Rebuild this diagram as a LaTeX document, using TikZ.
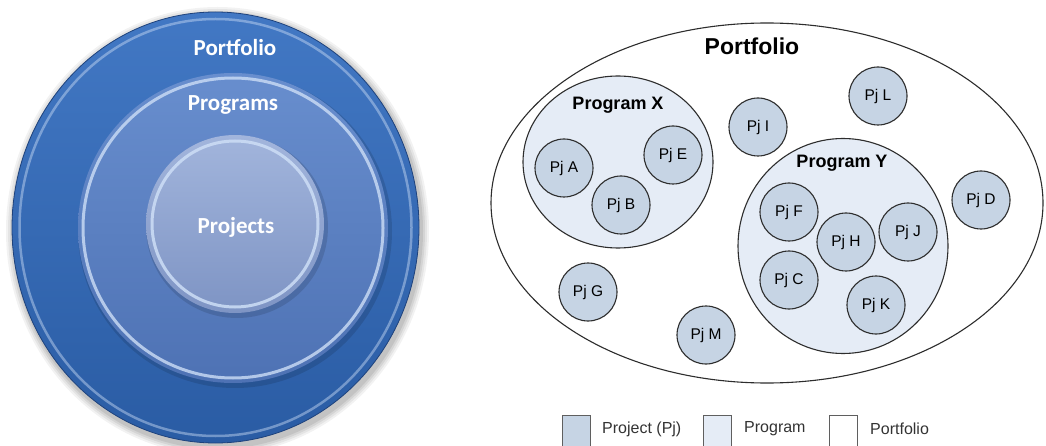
\documentclass[tikz,border=0pt]{standalone}
\usepackage{fontspec}
\setmainfont{Liberation Sans}
\newfontfamily\ringfont{Carlito}
\usetikzlibrary{shapes.geometric}

% colours of the nested discs
\definecolor{portA}{RGB}{66,120,196}
\definecolor{portB}{RGB}{42,92,164}
\definecolor{portEdge}{RGB}{30,66,124}
\definecolor{progA}{RGB}{104,142,206}
\definecolor{progB}{RGB}{78,114,180}
\definecolor{projA}{RGB}{162,181,220}
\definecolor{projB}{RGB}{126,148,196}
\definecolor{rimLight}{RGB}{205,222,246}
% colours of the set diagram
\definecolor{pjFill}{RGB}{198,212,228}
\definecolor{pgFill}{RGB}{229,236,246}
\definecolor{lineGrey}{RGB}{45,45,45}
\definecolor{legGrey}{RGB}{95,95,95}

\tikzset{
  ringlabel/.style={text=white, font=\ringfont\bfseries\fontsize{23}{23}\selectfont, inner sep=0pt},
  pj/.style={circle, draw=lineGrey, line width=1.1pt, fill=pjFill, minimum size=58pt, inner sep=0pt,
             font=\fontsize{15.5}{15.5}\selectfont},
  pg/.style={ellipse, draw=lineGrey, line width=1.1pt, fill=pgFill, inner sep=0pt},
  pglabel/.style={font=\bfseries\fontsize{18}{18}\selectfont, inner sep=0pt},
  legbox/.style={draw=legGrey, line width=1pt, minimum width=28pt, minimum height=36pt, inner sep=0pt, anchor=north west},
  legtext/.style={font=\fontsize{16}{16}\selectfont, text=black!80, anchor=west, inner sep=0pt}
}

\begin{document}
\begin{tikzpicture}[x=1pt, y=-1pt]
\useasboundingbox (0,0) rectangle (1046,446);

% ---------- nested rings ----------
% soft shadow under the outer ring
\foreach \g/\o in {8/0.05,6/0.06,4/0.07,2/0.08}
  \fill[black, opacity=\o] (217.5,231) ellipse ({203.5+\g} and {216+\g});

\node[ellipse, minimum width=407pt, minimum height=431pt, inner sep=0pt,
      top color=portA, bottom color=portB, draw=portEdge, line width=0.8pt] (portring) at (215.5,227.5) {};
\draw[rimLight, opacity=0.45, line width=2.5pt] (portring.center) ellipse (196 and 208.5);

\fill[black, opacity=0.12] (235,231) circle (157);
\node[circle, minimum size=310pt, inner sep=0pt, top color=progA, bottom color=progB] (progring) at (233,228) {};
\draw[rimLight, opacity=0.8, line width=3pt] (progring.center) circle (150);

\fill[black, opacity=0.12] (237,227) circle (91);
\node[circle, minimum size=178pt, inner sep=0pt, top color=projA, bottom color=projB] (projring) at (235,224) {};
\draw[rimLight, opacity=0.85, line width=3pt] (projring.center) circle (83);

\node[ringlabel] (tPort) at (235,48) {Portfolio};
\node[ringlabel] (tProg) at (233,105) {Programs};
\node[ringlabel] (tProj) at (236,227) {Projects};

% ---------- set diagram ----------
\node[ellipse, draw=lineGrey, line width=1.1pt, fill=white, minimum width=552pt, minimum height=360pt, inner sep=0pt] (portfolio) at (767,203) {};
\node[font=\bfseries\fontsize{23}{23}\selectfont, inner sep=0pt] (portTitle) at (752,46) {Portfolio};

\node[pg, minimum width=190pt, minimum height=172pt] (progX) at (618,162) {};
\node[pg, minimum width=210pt, minimum height=215pt] (progY) at (843,246) {};
\node[pglabel] (progXt) at (618,105) {Program X};
\node[pglabel] (progYt) at (842,163) {Program Y};

\node[pj] (pjA) at (564,168) {Pj A};
\node[pj] (pjE) at (673,155) {Pj E};
\node[pj] (pjB) at (621,205) {Pj B};
\node[pj] (pjI) at (758,127) {Pj I};
\node[pj] (pjL) at (878,96)  {Pj L};
\node[pj] (pjD) at (981,200) {Pj D};
\node[pj] (pjF) at (789,212) {Pj F};
\node[pj] (pjH) at (846,242) {Pj H};
\node[pj] (pjJ) at (908,232) {Pj J};
\node[pj] (pjC) at (789,280) {Pj C};
\node[pj] (pjK) at (876,305) {Pj K};
\node[pj] (pjG) at (588,292) {Pj G};
\node[pj] (pjM) at (706,335) {Pj M};

% ---------- legend ----------
\node[legbox, fill=pjFill] (legPj) at (562,415) {};
\node[legtext] (legPjT) at (602,429) {Project (Pj)};
\node[legbox, fill=pgFill] (legPg) at (703,415) {};
\node[legtext] (legPgT) at (744,429) {Program};
\node[legbox, fill=white] (legPf) at (829,415) {};
\node[legtext] (legPfT) at (870,429) {Portfolio};
\end{tikzpicture}
\end{document}
